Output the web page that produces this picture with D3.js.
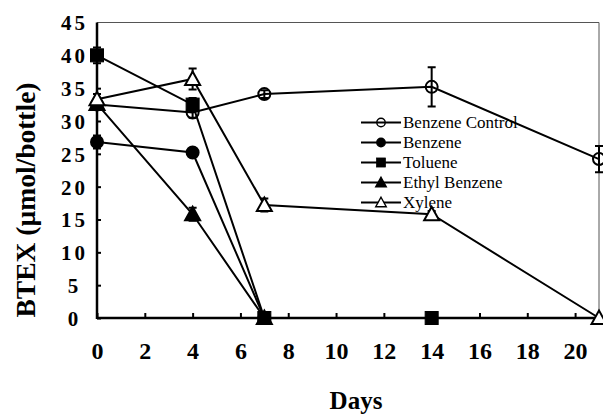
<!DOCTYPE html>
<html>
<head>
<meta charset="utf-8">
<script src="https://cdn.jsdelivr.net/npm/d3@7"></script>
<style>
  body { margin: 0; background: #fff; }
  svg { display: block; }
  svg text { font-family: "Liberation Serif", "Times New Roman", serif; }
</style>
</head>
<body>
<svg id="drawing_region"></svg>
<script>
// data
const days = [0, 4, 7, 14, 21];
const seriesNames = ["Benzene Control", "Benzene", "Toluene", "Ethyl Benzene", "Xylene"];
const benzeneControl = [32.5, 31.3, 34.1, 35.2, 24.2];
const benzeneControlErr = [0.5, 0.8, 0.6, 3.0, 2.0];
const benzene = [26.8, 25.2, 0];
const benzeneErr = [1.0, 0.6, 0];
const toluene = [40.0, 32.5, 0, 0];
const tolueneErr = [1.2, 1.0, 0, 0];
const ethylBenzene = [32.6, 15.8, 0];
const ethylBenzeneErr = [0.5, 1.0, 0];
const xylene = [33.3, 36.4, 17.2, 15.8, 0];
const xyleneErr = [0.8, 1.6, 1.0, 0.5, 0];
const xTicks = [0, 2, 4, 6, 8, 10, 12, 14, 16, 18, 20];
const yTicks = [0, 5, 10, 15, 20, 25, 30, 35, 40, 45];

const series = [
  { name: seriesNames[0], values: benzeneControl, err: benzeneControlErr, shape: "circle", fill: "none" },
  { name: seriesNames[1], values: benzene, err: benzeneErr, shape: "circle", fill: "#000" },
  { name: seriesNames[2], values: toluene, err: tolueneErr, shape: "square", fill: "#000" },
  { name: seriesNames[3], values: ethylBenzene, err: ethylBenzeneErr, shape: "triangle", fill: "#000" },
  { name: seriesNames[4], values: xylene, err: xyleneErr, shape: "triangle", fill: "#fff" },
];

const W = 603, H = 414;
const mLeft = 97, mRight = 599, mTop = 22.5, mBottom = 318;

const svg = d3.select("#drawing_region").attr("width", W).attr("height", H);

const x = d3.scaleLinear().domain([0, 21]).range([mLeft, mRight]);
const y = d3.scaleLinear().domain([0, 45]).range([mBottom, mTop]);

// thin frame top / right
svg.append("path")
  .attr("d", `M${mLeft},${mTop}H${mRight}V${mBottom}`)
  .attr("fill", "none").attr("stroke", "#555").attr("stroke-width", 1);

// x axis
const gx = svg.append("g")
  .attr("transform", `translate(0,${mBottom})`)
  .call(d3.axisBottom(x).tickValues(xTicks).tickSizeInner(-5).tickSizeOuter(0));
gx.attr("font-family", null);
gx.select(".domain").attr("stroke-width", 2.5).attr("d", `M${mLeft},0H${mRight}`);
gx.selectAll(".tick line").attr("stroke-width", 2);
gx.selectAll(".tick text")
  .attr("y", 41).attr("dy", 0)
  .style("font-size", "24px").style("font-weight", "bold").attr("fill", "#000");

// y axis
const gy = svg.append("g")
  .attr("transform", `translate(${mLeft},0)`)
  .call(d3.axisLeft(y).tickValues(yTicks).tickSizeInner(-4).tickSizeOuter(0));
gy.attr("font-family", null);
gy.select(".domain").attr("stroke-width", 2.5).attr("d", `M0,${mTop}V${mBottom + 1}`);
gy.selectAll(".tick line").attr("stroke-width", 2);
gy.selectAll(".tick").filter(d => d === 45).select("line").remove();
gy.selectAll(".tick text")
  .attr("x", -24).attr("dy", "0.35em")
  .attr("text-anchor", "middle")
  .attr("letter-spacing", d => d >= 10 ? 3 : 0)
  .attr("dx", d => d >= 10 ? 1.5 : 0)
  .style("font-size", "21px").style("font-weight", "bold").attr("fill", "#000");

// axis titles
svg.append("text")
  .attr("x", 356).attr("y", 409)
  .attr("text-anchor", "middle")
  .style("font-size", "25px").style("font-weight", "bold")
  .text("Days");

svg.append("text")
  .attr("transform", "translate(35,200) rotate(-90)")
  .attr("text-anchor", "middle")
  .style("font-size", "28px").style("font-weight", "bold")
  .attr("textLength", 235).attr("lengthAdjust", "spacingAndGlyphs")
  .text("BTEX (\u00b5mol/bottle)");

function marker(g, shape, fill, cx, cy) {
  if (shape === "circle") {
    g.append("circle").attr("cx", cx).attr("cy", cy).attr("r", 6)
      .attr("fill", fill).attr("stroke", "#000").attr("stroke-width", 2);
  } else if (shape === "square") {
    g.append("rect").attr("x", cx - 6.5).attr("y", cy - 6.5).attr("width", 13).attr("height", 13)
      .attr("fill", fill).attr("stroke", "#000").attr("stroke-width", 1);
  } else {
    g.append("path")
      .attr("d", `M${cx},${cy - 7.5}L${cx + 7.5},${cy + 6}L${cx - 7.5},${cy + 6}Z`)
      .attr("fill", fill).attr("stroke", "#000").attr("stroke-width", 2).attr("stroke-linejoin", "miter");
  }
}

const line = d3.line().x(d => x(d[0])).y(d => y(d[1]));

series.forEach(s => {
  const pts = s.values.map((v, i) => [days[i], v, s.err[i]]);
  const g = svg.append("g");
  g.append("path").attr("d", line(pts))
    .attr("fill", "none").attr("stroke", "#000").attr("stroke-width", 2);
  pts.forEach(p => {
    if (p[2] > 0) {
      const cx = x(p[0]), y1 = y(p[1] + p[2]), y2 = y(p[1] - p[2]);
      g.append("path")
        .attr("d", `M${cx},${y1}V${y2}M${cx - 4},${y1}H${cx + 4}M${cx - 4},${y2}H${cx + 4}`)
        .attr("stroke", "#000").attr("stroke-width", 2).attr("fill", "none");
    }
  });
  pts.forEach(p => marker(g, s.shape, s.fill, x(p[0]), y(p[1])));
});

// legend
const legend = svg.append("g");
series.forEach((s, i) => {
  const ly = 122.5 + i * 20;
  legend.append("line").attr("x1", 361).attr("x2", 401).attr("y1", ly).attr("y2", ly)
    .attr("stroke", "#000").attr("stroke-width", 2);
  const m = legend.append("g").attr("transform", `translate(381,${ly}) scale(0.7) translate(-381,${-ly})`);
  marker(m, s.shape, s.fill, 381, ly);
  legend.append("text")
    .attr("x", 403).attr("y", ly).attr("dy", "0.35em")
    .style("font-size", "17px")
    .text(s.name);
});
</script>
</body>
</html>
